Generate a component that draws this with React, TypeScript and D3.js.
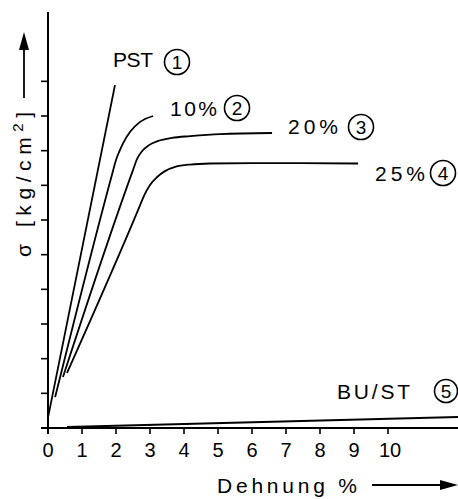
import React from "react";
import * as d3 from "d3";

// Stress–strain curves of PST foams with filler share, plus BU/ST
const xTicks = [0, 1, 2, 3, 4, 5, 6, 7, 8, 9, 10];
const yTicks = [1, 2, 3, 4, 5, 6, 7, 8, 9, 10];

const pstStrain = [0.01, 1.97];
const pstStress = [0.35, 9.89];

const p10Strain = [0.21, 1.88, 2.0, 2.09, 2.21, 2.41, 2.71, 3.09];
const p10Stress = [0.89, 7.3, 7.73, 7.96, 8.22, 8.54, 8.83, 9.0];

const p20Strain = [0.44, 2.5, 2.62, 2.77, 2.97, 3.24, 3.65, 4.18, 5.06, 6.59];
const p20Stress = [1.47, 7.44, 7.76, 7.99, 8.16, 8.28, 8.37, 8.42, 8.48, 8.51];

const p25Strain = [0.56, 2.71, 2.82, 3.0, 3.21, 3.44, 3.74, 4.18, 4.76, 6.03, 7.41, 9.12];
const p25Stress = [1.59, 6.43, 6.69, 7.01, 7.24, 7.41, 7.53, 7.6, 7.63, 7.64, 7.64, 7.63];

const buStrain = [0.56, 12.06];
const buStress = [0.03, 0.32];

const seriesNames = ["PST", "10%", "20%", "25%", "BU/ST"];
const seriesNumbers = ["1", "2", "3", "4", "5"];

const W = 458;
const H = 499;
const FONT = "'Liberation Sans', Arial, sans-serif";

const x = d3.scaleLinear().domain([0, 12.1]).range([48, 48 + 12.1 * 34]);
const y = d3.scaleLinear().domain([0, 12]).range([428, 12]);

const zip = (xs: number[], ys: number[]) => xs.map((v, i) => [v, ys[i]] as [number, number]);

const curves = [
  zip(pstStrain, pstStress),
  zip(p10Strain, p10Stress),
  zip(p20Strain, p20Stress),
  zip(p25Strain, p25Stress),
  zip(buStrain, buStress),
];

const line = d3
  .line<[number, number]>()
  .x((d) => x(d[0]))
  .y((d) => y(d[1]))
  .curve(d3.curveMonotoneX);

// label placement: text start, baseline, text width, circle centre, radius
const labelLayout = [
  { tx: 113, ty: 67, tw: 40, cx: 177, cy: 62, r: 12.5 },
  { tx: 170, ty: 116, tw: 47, cx: 237, cy: 108, r: 12.5 },
  { tx: 288, ty: 134, tw: 50, cx: 361, cy: 127, r: 12.5 },
  { tx: 375, ty: 181, tw: 50, cx: 443, cy: 173, r: 12.5 },
  { tx: 337, ty: 399, tw: 73, cx: 446, cy: 391, r: 11.5 },
];

export default function App() {
  const x0 = x(0);
  const y0 = y(0);
  return (
    <svg
      width={W}
      height={H}
      viewBox={`0 0 ${W} ${H}`}
      style={{ position: "absolute", left: 0, top: 0, background: "#fff", display: "block" }}
      fontFamily={FONT}
    >
      <rect width={W} height={H} fill="#fff" />
      {/* axes */}
      <line x1={x0} y1={12} x2={x0} y2={y0 + 6} stroke="#000" strokeWidth={2} />
      <line x1={x0 - 7} y1={y0} x2={W} y2={y0} stroke="#000" strokeWidth={2} />
      {yTicks.map((t) => (
        <line key={`yt${t}`} x1={x0 - 7} x2={x0} y1={y(t)} y2={y(t)} stroke="#000" strokeWidth={1.6} />
      ))}
      {xTicks.map((t) => (
        <g key={`xt${t}`}>
          <line x1={x(t)} x2={x(t)} y1={y0} y2={y0 + 6} stroke="#000" strokeWidth={1.6} />
          <text x={x(t) + (t === 10 ? 2 : 0)} y={457} fontSize={20} textAnchor="middle" fill="#000">
            {t}
          </text>
        </g>
      ))}

      {/* curves */}
      {curves.map((pts, i) => (
        <path key={`c${i}`} d={line(pts) || ""} fill="none" stroke="#000" strokeWidth={i === 4 ? 2 : 1.8} />
      ))}

      {/* series labels */}
      {labelLayout.map((l, i) => (
        <g key={`l${i}`}>
          <text x={l.tx} y={l.ty} fontSize={21} fill="#000" textLength={l.tw} lengthAdjust="spacing">
            {seriesNames[i]}
          </text>
          <circle cx={l.cx} cy={l.cy} r={l.r} fill="none" stroke="#000" strokeWidth={1.6} />
          <text x={l.cx} y={l.cy + 7} fontSize={19} textAnchor="middle" fill="#000">
            {seriesNumbers[i]}
          </text>
        </g>
      ))}

      {/* x axis title with arrow */}
      <text x={217} y={493} fontSize={21} fill="#000" textLength={140} lengthAdjust="spacing">
        Dehnung %
      </text>
      <line x1={372} y1={485} x2={442} y2={485} stroke="#000" strokeWidth={1.8} />
      <path d="M440,480 L458,485 L440,490 Z" fill="#000" />

      {/* y axis title with arrow */}
      <text
        transform="translate(31,257) rotate(-90)"
        fontSize={21}
        fill="#000"
        textLength={145}
        lengthAdjust="spacing"
      >
        σ [kg/cm
        <tspan dy={-8} fontSize={15}>2</tspan>
        <tspan dy={8}>]</tspan>
      </text>
      <line x1={24} y1={98} x2={24} y2={46} stroke="#000" strokeWidth={1.8} />
      <path d="M19,50 L24,32 L29,50 Z" fill="#000" />
    </svg>
  );
}
